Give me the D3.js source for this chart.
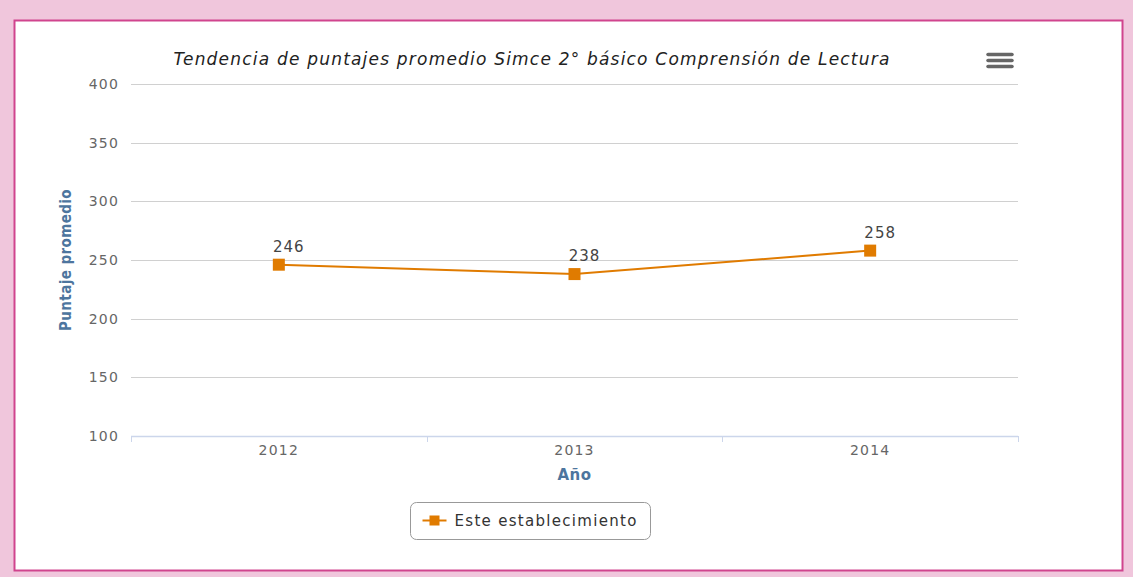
<!DOCTYPE html>
<html>
<head>
<meta charset="utf-8">
<script src="https://cdn.jsdelivr.net/npm/d3@7"></script>
<style>
  body { margin: 0; background: #f0c6dc; }
  svg { display: block; font-family: "DejaVu Sans", Verdana, sans-serif; }
</style>
</head>
<body>
<svg id="chart" width="1133" height="577"></svg>
<script>
// datos
var years = ['2012', '2013', '2014']
var puntajes = [246, 238, 258]
var yTicks = [100, 150, 200, 250, 300, 350, 400]
var serieNombre = 'Este establecimiento'
var titulo = 'Tendencia de puntajes promedio Simce 2° básico Comprensión de Lectura'

var W = 1133, H = 577
var plot = { l: 131, r: 1018, t: 84, b: 436 }
var naranja = '#e07b00'

var svg = d3.select('#chart')

// marco blanco con borde rosado
svg.append('rect')
    .attr('x', 14.5).attr('y', 20.5)
    .attr('width', 1108).attr('height', 550)
    .attr('fill', '#fff')
    .attr('stroke', '#d0448e')
    .attr('stroke-width', 2)

var x = d3.scaleBand()
    .domain(years)
    .range([plot.l, plot.r])

var y = d3.scaleLinear()
    .domain([100, 400])
    .range([plot.b, plot.t])

// grilla
svg.append('g').selectAll('line')
    .data(yTicks.filter(d => d > 100))
    .join('line')
    .attr('x1', plot.l).attr('x2', plot.r)
    .attr('y1', d => Math.round(y(d)) + 0.5)
    .attr('y2', d => Math.round(y(d)) + 0.5)
    .attr('stroke', '#d0d0d0')
    .attr('stroke-width', 1)

// eje y
var ya = d3.axisLeft(y).tickValues(yTicks).tickSize(0).tickPadding(12)
var gy = svg.append('g')
    .attr('transform', `translate(${plot.l},0)`)
    .call(ya)
gy.select('.domain').remove()
gy.selectAll('text')
    .attr('fill', '#666')
    .attr('font-size', 14)
    .attr('font-family', '"DejaVu Sans", Verdana, sans-serif')
    .attr('letter-spacing', 1.2)

// eje x
var xa = d3.axisBottom(x).tickSize(0).tickPadding(9)
var gx = svg.append('g')
    .attr('transform', `translate(0,${plot.b})`)
    .call(xa)
gx.select('.domain').remove()
gx.append('line')
    .attr('x1', plot.l).attr('x2', plot.r)
    .attr('y1', 0.5).attr('y2', 0.5)
    .attr('stroke', '#ccd6eb')
    .attr('stroke-width', 1.5)
// marcas entre categorias
var bordes = years.map(d => x(d)).concat([x(years[years.length - 1]) + x.bandwidth()])
gx.selectAll('line.tk')
    .data(bordes)
    .join('line')
    .attr('class', 'tk')
    .attr('x1', d => Math.round(d) + 0.5).attr('x2', d => Math.round(d) + 0.5)
    .attr('y1', 0).attr('y2', 6)
    .attr('stroke', '#ccd6eb')
gx.selectAll('.tick text')
    .attr('fill', '#666')
    .attr('font-size', 14)
    .attr('font-family', '"DejaVu Sans", Verdana, sans-serif')
    .attr('letter-spacing', 1.2)

// titulos de ejes
svg.append('text')
    .attr('transform', `translate(71,${(plot.t + plot.b) / 2}) rotate(-90)`)
    .attr('text-anchor', 'middle')
    .attr('fill', '#4d759e')
    .attr('font-weight', 'bold')
    .attr('font-size', 15)
    .attr('letter-spacing', 0.4)
    .attr('font-family', '"DejaVu Sans Condensed", "DejaVu Sans", sans-serif')
    .text('Puntaje promedio')

svg.append('text')
    .attr('x', (plot.l + plot.r) / 2)
    .attr('y', 480)
    .attr('text-anchor', 'middle')
    .attr('fill', '#4d759e')
    .attr('font-weight', 'bold')
    .attr('font-size', 15)
    .attr('letter-spacing', 0.5)
    .text('Año')

// titulo
svg.append('text')
    .attr('x', 532)
    .attr('y', 65)
    .attr('text-anchor', 'middle')
    .attr('fill', '#222')
    .attr('font-style', 'italic')
    .attr('font-size', 17)
    .attr('letter-spacing', 1.2)
    .text(titulo)

// linea
var cx = d => x(d) + x.bandwidth() / 2
var linea = d3.line()
    .x((d, i) => cx(years[i]))
    .y(d => y(d))

svg.append('path')
    .datum(puntajes)
    .attr('d', linea)
    .attr('fill', 'none')
    .attr('stroke', naranja)
    .attr('stroke-width', 2)

svg.selectAll('rect.pt')
    .data(puntajes)
    .join('rect')
    .attr('class', 'pt')
    .attr('x', (d, i) => cx(years[i]) - 6)
    .attr('y', d => y(d) - 6)
    .attr('width', 12).attr('height', 12)
    .attr('fill', naranja)

svg.selectAll('text.lbl')
    .data(puntajes)
    .join('text')
    .attr('class', 'lbl')
    .attr('x', (d, i) => cx(years[i]) + 10)
    .attr('y', d => y(d) - 13)
    .attr('text-anchor', 'middle')
    .attr('fill', '#444')
    .attr('font-size', 15)
    .attr('letter-spacing', 1)
    .text(d => d)

// leyenda
var lg = svg.append('g').attr('transform', 'translate(410.5,502.5)')
lg.append('rect')
    .attr('width', 240).attr('height', 37)
    .attr('rx', 6)
    .attr('fill', '#fff')
    .attr('stroke', '#999')
lg.append('line')
    .attr('x1', 12).attr('x2', 36)
    .attr('y1', 18).attr('y2', 18)
    .attr('stroke', naranja).attr('stroke-width', 2)
lg.append('rect')
    .attr('x', 19).attr('y', 13)
    .attr('width', 10).attr('height', 10)
    .attr('fill', naranja)
lg.append('text')
    .attr('x', 44).attr('y', 23)
    .attr('fill', '#333')
    .attr('font-size', 15)
    .attr('letter-spacing', 1.3)
    .text(serieNombre)

// icono de menu
var menu = svg.append('g').attr('transform', 'translate(988,53)')
menu.selectAll('line')
    .data([0, 6, 12])
    .join('line')
    .attr('x1', 0).attr('x2', 24)
    .attr('y1', d => d + 1.5).attr('y2', d => d + 1.5)
    .attr('stroke', '#666')
    .attr('stroke-width', 3.5)
    .attr('stroke-linecap', 'round')
</script>
</body>
</html>
